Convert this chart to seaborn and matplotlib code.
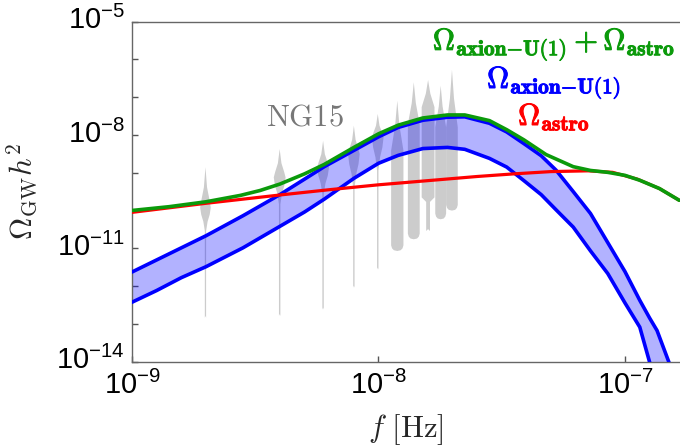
import numpy as np
import matplotlib
matplotlib.use("Agg")
from matplotlib import pyplot as plt
from matplotlib import patheffects
from matplotlib.ticker import FixedLocator, FuncFormatter
from matplotlib.transforms import ScaledTranslation
import seaborn as sns

# log10 of frequency [Hz] and log10 of Omega_GW h^2
astro_logf = [-9.00, -8.85, -8.70, -8.55, -8.40, -8.20, -8.00, -7.80, -7.60,
              -7.45, -7.30, -7.15, -7.05, -6.95, -6.86, -6.78]
astro_logo = [-10.05, -9.93, -9.81, -9.70, -9.59, -9.45, -9.32, -9.21, -9.10,
              -9.03, -8.97, -8.95, -8.99, -9.17, -9.42, -9.73]

total_logf = [-9.00, -8.85, -8.70, -8.56, -8.48, -8.40, -8.30, -8.22, -8.10, -8.00,
              -7.92, -7.82, -7.72, -7.65, -7.55, -7.48, -7.41, -7.32, -7.21,
              -7.14, -7.07, -7.00, -6.94, -6.86, -6.78]
total_logo = [-10.00, -9.90, -9.77, -9.60, -9.47, -9.30, -9.03, -8.78, -8.33, -7.97,
              -7.74, -7.55, -7.47, -7.47, -7.62, -7.86, -8.13, -8.52, -8.84,
              -8.94, -8.99, -9.07, -9.20, -9.42, -9.73]

band_logf = [-9.00, -8.90, -8.80, -8.70, -8.55, -8.40, -8.30, -8.22, -8.10,
             -8.00, -7.92, -7.82, -7.72, -7.65, -7.55, -7.48, -7.41, -7.34,
             -7.28, -7.21, -7.14, -7.07, -7.00, -6.94, -6.90, -6.87, -6.82]
band_upper = [-11.63, -11.31, -10.99, -10.67, -10.14, -9.58, -9.17, -8.84, -8.41,
              -8.05, -7.80, -7.61, -7.53, -7.52, -7.69, -7.92, -8.23, -8.55,
              -8.93, -9.50, -10.08, -10.85, -11.62, -12.38, -12.85, -13.18, -14.05]
band_lower = [-12.43, -12.12, -11.78, -11.49, -10.99, -10.42, -10.04, -9.70, -9.15,
              -8.75, -8.54, -8.36, -8.33, -8.38, -8.62, -8.85, -9.21, -9.58,
              -9.98, -10.44, -11.07, -11.67, -12.45, -13.09, -14.02, -14.60, -15.40]

# NG15 free-spectrum violins, bins k / T
ng15_k = [1, 2, 3, 4, 5, 6, 7, 8, 9, 10]
ng15_fbin = 1.977e-9
ng15_top = [-8.84, -8.36, -8.14, -7.74, -7.43, -7.08, -6.59, -6.53, -6.68, -6.26]
ng15_peak = [-9.91, -9.11, -8.85, -8.49, -8.05, -8.40, -7.70, -7.25, -7.78, -7.78]
ng15_body_end = [-10.53, -9.82, -9.55, -9.38, -8.93, -10.91, -10.60, -9.64, -10.07, -9.84]
ng15_bottom = [-12.78, -12.73, -12.56, -11.98, -11.50, -11.06, -10.75, -10.48, -10.22, -9.99]
ng15_halfwidth = [0.0215, 0.024, 0.024, 0.0235, 0.0235, 0.025, 0.024, 0.026, 0.022, 0.0235]
ng15_tail = [0.12, 0.12, 0.12, 0.12, 0.12, 1.0, 1.0, 0.3, 1.0, 1.0]

GREEN = "#0b9a0b"
BLUE = "#0000ff"
RED = "#ff0000"
GRAY = "#808080"


def violin_outline(top, peak, body_end, bottom, tail):
    """Levels and relative widths of one violin, from its top down to its bottom."""
    if tail < 0.2:
        levels = [top, top + 0.5 * (peak - top), top + 0.8 * (peak - top), peak,
                  peak + 0.3 * (body_end - peak), peak + 0.6 * (body_end - peak),
                  body_end, bottom - 0.05, bottom]
        widths = [0, 0.3, 0.75, 1, 0.8, 0.4, tail, tail, 0]
    elif tail < 1:
        levels = [top, top + 0.5 * (peak - top), peak, body_end, body_end - 0.12,
                  bottom - 0.05, bottom]
        widths = [0, 0.35, 1, 1, tail, tail, 0]
    else:
        levels = [top, top + 0.5 * (peak - top), peak, body_end, body_end - 0.08,
                  body_end - 0.13, bottom]
        widths = [0, 0.35, 1, 1, 0.85, 0.55, 0]
    return np.array(levels), np.array(widths)


sns.set_theme(style="ticks")
plt.rcParams["font.family"] = ["Liberation Sans", "DejaVu Sans"]
plt.rcParams["mathtext.fontset"] = "custom"
plt.rcParams["mathtext.rm"] = "Liberation Sans"
plt.rcParams["mathtext.it"] = "Liberation Sans:italic"
plt.rcParams["mathtext.bf"] = "Liberation Sans:bold"

fig = plt.figure(figsize=(6.8, 4.47), dpi=100)
ax = fig.add_axes([132 / 680, 1 - 361.5 / 447, 548 / 680, 339.8 / 447])

for k, top, peak, body_end, bottom, hw, tail in zip(ng15_k, ng15_top, ng15_peak, ng15_body_end,
                                                    ng15_bottom, ng15_halfwidth, ng15_tail):
    x0 = np.log10(k * ng15_fbin)
    levels, widths = violin_outline(top, peak, body_end, bottom, tail)
    ax.fill_betweenx(levels, x0 - hw * widths, x0 + hw * widths, color=GRAY, alpha=0.4,
                     lw=0, zorder=1)

ax.fill_between(band_logf, band_lower, band_upper, color=BLUE, alpha=0.3, lw=0, zorder=2)
sns.lineplot(x=band_logf, y=band_upper, ax=ax, color=BLUE, lw=2.6, sort=False,
             estimator=None, zorder=3)
sns.lineplot(x=band_logf, y=band_lower, ax=ax, color=BLUE, lw=2.6, sort=False,
             estimator=None, zorder=3)
sns.lineplot(x=astro_logf, y=astro_logo, ax=ax, color=RED, lw=2.3, sort=False,
             estimator=None, zorder=4)
sns.lineplot(x=total_logf, y=total_logo, ax=ax, color=GREEN, lw=2.6, sort=False,
             estimator=None, zorder=5)

ax.set_xlim(-9, -7 + 55 / 246.5)
ax.set_ylim(-14, -5)
ax.xaxis.set_major_locator(FixedLocator([-9, -8, -7]))
ax.yaxis.set_major_locator(FixedLocator([-14, -11, -8, -5]))
ax.yaxis.set_minor_locator(FixedLocator(list(range(-14, -4))))
fmt = FuncFormatter(lambda v, pos: r"$10^{%d}$" % round(v))
ax.xaxis.set_major_formatter(fmt)
ax.yaxis.set_major_formatter(fmt)
ax.tick_params(which="both", direction="in", length=4, width=1.0, color="#555555",
               labelsize=21, pad=5, labelcolor="black")
ax.tick_params(axis="x", pad=7)
# lift the y tick labels a little so the digits sit on the tick
lift = ScaledTranslation(0, 4 / 100, fig.dpi_scale_trans)
for tick in ax.yaxis.get_major_ticks():
    tick.label1.set_transform(tick.label1.get_transform() + lift)
for side in ("left", "bottom", "top"):
    ax.spines[side].set_color("#666666")
    ax.spines[side].set_linewidth(1.0)
ax.spines["right"].set_visible(False)

ax.set_xlabel(r"$f\ [\mathrm{Hz}]$", fontsize=22, math_fontfamily="cm")
ax.set_ylabel(r"$\Omega_{\rm GW}h^2$", fontsize=22, math_fontfamily="cm")
ax.xaxis.set_label_coords(0.5, -0.15)
ax.yaxis.set_label_coords(-0.168, 0.5)

ax.text(-8.30, -7.74, r"$\mathrm{NG15}$", fontsize=22, color="#777777", ha="center",
        va="baseline", math_fontfamily="cm")

bold = [patheffects.withStroke(linewidth=0.7, foreground=c) for c in (GREEN, BLUE, RED)]
ax.text(-7.288, -5.75, r"$\mathbf{\Omega_{axion{-}U(1)}+\Omega_{astro}}$", fontsize=22,
        color=GREEN, ha="center", va="baseline", math_fontfamily="cm", path_effects=[bold[0]])
ax.text(-7.288, -6.76, r"$\mathbf{\Omega_{axion{-}U(1)}}$", fontsize=22,
        color=BLUE, ha="center", va="baseline", math_fontfamily="cm", path_effects=[bold[1]])
ax.text(-7.288, -7.74, r"$\mathbf{\Omega_{astro}}$", fontsize=22,
        color=RED, ha="center", va="baseline", math_fontfamily="cm", path_effects=[bold[2]])

fig.savefig("out.png", dpi=100)
